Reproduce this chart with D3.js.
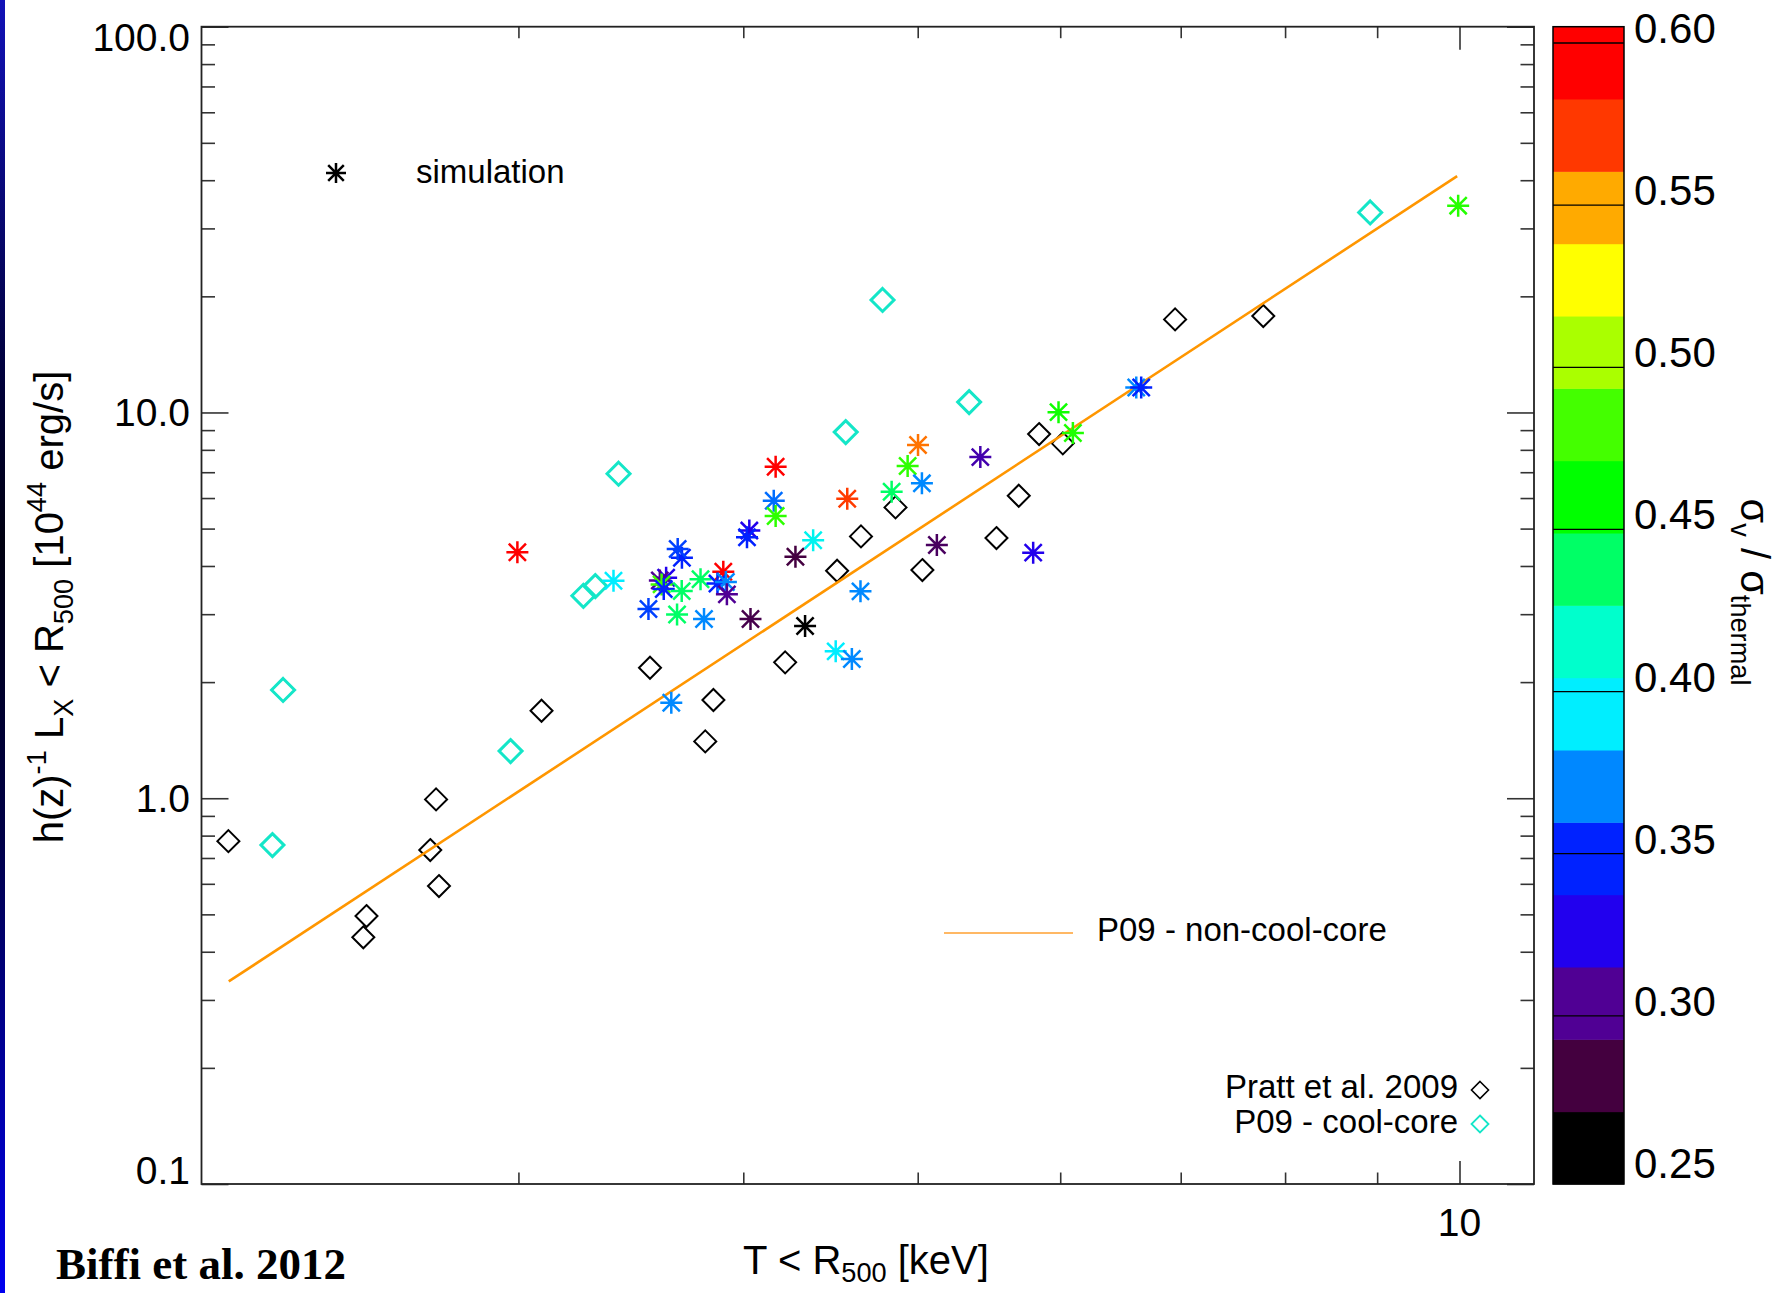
<!DOCTYPE html>
<html>
<head>
<meta charset="utf-8">
<script src="https://cdn.jsdelivr.net/npm/d3@7"></script>
<style>
  body { margin: 0; background: #fff; }
  svg text { font-family: "Liberation Sans", Arial, sans-serif; fill: #000; }
</style>
</head>
<body>
<svg id="chart" width="1781" height="1293"></svg>
<script>
// Pratt et al. 2009 (black diamonds): T [keV], L [1e44 erg/s]
var prattT = [2.07, 2.47, 2.46, 2.70, 2.68, 2.71, 3.09, 3.55, 3.85, 3.81, 4.22,
              4.51, 4.65, 4.86, 5.03, 5.53, 5.69, 5.84, 6.02, 6.95, 7.78];
var prattL = [0.774, 0.495, 0.436, 0.993, 0.734, 0.592, 1.686, 2.179, 1.797, 1.404, 2.250,
              3.888, 4.773, 5.675, 3.904, 4.725, 6.083, 8.790, 8.316, 17.43, 17.78];

// P09 cool-core (cyan diamonds)
var coolT = [2.22, 2.19, 2.97, 3.26, 3.31, 3.41, 4.56, 4.78, 5.34, 8.92];
var coolL = [1.908, 0.756, 1.325, 3.348, 3.548, 6.937, 8.896, 19.57, 10.64, 33.0];

// simulation (asterisks), coloured by sigma_v / sigma_thermal
var simT = [2.996, 3.388, 3.543, 3.624, 3.595, 3.603, 3.613, 3.697, 3.787, 3.899,
            3.870, 3.912, 3.917, 3.698, 3.678, 3.675, 3.804, 4.037, 4.169, 4.159,
            4.169, 4.031, 4.019, 4.276, 4.374, 4.329, 4.502, 4.596, 4.569, 4.647,
            4.836, 4.936, 5.002, 5.027, 5.124, 5.417, 5.796, 5.987, 6.098, 6.613,
            6.655, 9.983, 3.648];
var simL = [4.340, 3.663, 3.093, 3.729, 3.667, 3.584, 3.485, 3.443, 3.696, 3.865,
            3.601, 3.634, 3.377, 4.200, 4.426, 2.994, 2.914, 2.914, 7.234, 5.904,
            5.389, 4.941, 4.746, 4.227, 4.665, 2.795, 2.403, 2.296, 5.975, 3.438,
            6.231, 7.262, 8.232, 6.551, 4.532, 7.661, 4.331, 10.02, 8.843, 11.61,
            11.61, 34.36, 1.768];
var simSigma = [0.594, 0.393, 0.355, 0.326, 0.304, 0.482, 0.348, 0.438, 0.438, 0.594,
                0.348, 0.371, 0.304, 0.348, 0.355, 0.438, 0.371, 0.285, 0.594, 0.365,
                0.475, 0.326, 0.348, 0.282, 0.400, 0.259, 0.393, 0.371, 0.571, 0.371,
                0.438, 0.475, 0.560, 0.371, 0.290, 0.310, 0.326, 0.465, 0.470, 0.371,
                0.348, 0.472, 0.371];

// P09 non-cool-core fit (end points)
var lineT = [2.071, 9.97];
var lineL = [0.335, 41.0];

// colour table, bottom to top
var cbColors = ["#000000", "#44003f", "#500094", "#2200ee", "#0022ff", "#0088ff", "#00eeff", "#00ffcc",
                "#00ff66", "#00ff00", "#44ff00", "#aaff00", "#ffff00", "#ffaa00", "#ff3800", "#ff0000"];
var cbTicks = [0.25, 0.30, 0.35, 0.40, 0.45, 0.50, 0.55, 0.60];

var yMajor = [0.1, 1, 10, 100];
var yMinor = [0.2, 0.3, 0.4, 0.5, 0.6, 0.7, 0.8, 0.9, 2, 3, 4, 5, 6, 7, 8, 9,
              20, 30, 40, 50, 60, 70, 80, 90];
var xMajor = [10];
var xMinor = [3, 4, 5, 6, 7, 8, 9];

var plot = {left: 201.5, right: 1534, top: 26.7, bottom: 1184};

var svg = d3.select("#chart");

// blue strip at the left edge
var grad = svg.append("defs").append("linearGradient")
    .attr("id", "edge").attr("x1", 0).attr("y1", 0).attr("x2", 0).attr("y2", 1);
[[0, "#1212b8"], [0.3, "#000038"], [0.42, "#000010"], [0.65, "#000048"], [1, "#0000f0"]]
  .forEach(function(s) { grad.append("stop").attr("offset", s[0]).attr("stop-color", s[1]); });
svg.append("rect").attr("x", 0).attr("y", 0).attr("width", 5).attr("height", 1293).attr("fill", "url(#edge)");

var x = d3.scaleLog().domain([2, 11]).range([plot.left, plot.right]);
var y = d3.scaleLog().domain([0.1, 100]).range([plot.bottom, plot.top]);

// axes, ticks pointing inwards
function ticks(axis, values, size, tx, ty) {
  var g = svg.append("g").attr("transform", "translate(" + tx + "," + ty + ")")
    .call(axis.tickValues(values).tickSize(size).tickFormat(""));
  g.select(".domain").remove();
  g.selectAll("line").attr("stroke", "#333").attr("stroke-width", 1.6);
}
ticks(d3.axisRight(y), yMajor, 27, plot.left, 0);
ticks(d3.axisRight(y), yMinor, 13.5, plot.left, 0);
ticks(d3.axisLeft(y), yMajor, 27, plot.right, 0);
ticks(d3.axisLeft(y), yMinor, 13.5, plot.right, 0);
ticks(d3.axisTop(x), xMajor, 23, 0, plot.bottom);
ticks(d3.axisTop(x), xMinor, 11.5, 0, plot.bottom);
ticks(d3.axisBottom(x), xMajor, 23, 0, plot.top);
ticks(d3.axisBottom(x), xMinor, 11.5, 0, plot.top);

svg.append("rect")
  .attr("x", plot.left).attr("y", plot.top)
  .attr("width", plot.right - plot.left).attr("height", plot.bottom - plot.top)
  .attr("fill", "none").attr("stroke", "#222").attr("stroke-width", 1.8);

// tick labels
svg.selectAll(".ylab").data(yMajor).enter().append("text")
  .attr("x", 190).attr("text-anchor", "end")
  .attr("y", function(d) { return Math.min(plot.bottom, Math.max(51, y(d) + 14)); })
  .style("font-size", "39px")
  .text(function(d) { return d < 1 ? "0.1" : d3.format(".1f")(d); });

svg.selectAll(".xlab").data(xMajor).enter().append("text")
  .attr("x", function(d) { return x(d); }).attr("y", 1236).attr("text-anchor", "middle")
  .style("font-size", "39px")
  .text(function(d) { return d; });

// text with sub/superscripts
function rich(sel, parts, size, subShift) {
  var shift = 0;
  parts.forEach(function(p) {
    var target = p[1] == "sup" ? -0.42 * size : p[1] == "sub" ? subShift * size : 0;
    var t = sel.append("tspan").text(p[0]).attr("dy", target - shift);
    if (p[1] != "n") t.style("font-size", (0.68 * size) + "px");
    shift = target;
  });
}

var ytitle = svg.append("text")
  .attr("transform", "translate(63,607) rotate(-90)")
  .attr("text-anchor", "middle").style("font-size", "40px");
rich(ytitle, [["h(z)", "n"], ["-1", "sup"], [" L", "n"], ["X", "sub"], [" < R", "n"],
              ["500", "sub"], [" [10", "n"], ["44", "sup"], [" erg/s]", "n"]], 40, 0.26);

var xtitle = svg.append("text")
  .attr("x", 866).attr("y", 1274).attr("text-anchor", "middle").style("font-size", "40px");
rich(xtitle, [["T < R", "n"], ["500", "sub"], [" [keV]", "n"]], 40, 0.2);

svg.append("text").attr("x", 56).attr("y", 1279)
  .style("font-family", "'Liberation Serif', 'Times New Roman', serif")
  .style("font-weight", "bold").style("font-size", "45px")
  .text("Biffi et al. 2012");

// markers
function diamond(s) { return "M0," + (-s) + "L" + s + ",0L0," + s + "L" + (-s) + ",0Z"; }
function star(r) {
  var d = r * 0.78;
  return "M0," + (-r) + "V" + r + "M" + (-r) + ",0H" + r +
         "M" + (-d) + "," + (-d) + "L" + d + "," + d + "M" + (-d) + "," + d + "L" + d + "," + (-d);
}

svg.append("g").selectAll("path").data(prattT).enter().append("path")
  .attr("d", diamond(11))
  .attr("transform", function(d, i) { return "translate(" + x(d) + "," + y(prattL[i]) + ")"; })
  .attr("fill", "none").attr("stroke", "#000").attr("stroke-width", 2);

svg.append("g").selectAll("path").data(coolT).enter().append("path")
  .attr("d", diamond(11.5))
  .attr("transform", function(d, i) { return "translate(" + x(d) + "," + y(coolL[i]) + ")"; })
  .attr("fill", "none").attr("stroke", "#14e6c8").attr("stroke-width", 3);

var line = d3.line().x(function(d) { return x(d); }).y(function(d, i) { return y(lineL[i]); });
svg.append("path").attr("d", line(lineT))
  .attr("fill", "none").attr("stroke", "#ff9600").attr("stroke-width", 2.6);

// colour scale
var cb = d3.scaleLinear().domain([0.25, 0.60]).range([1178, 43]);
var cbLo = cb.invert(plot.bottom), cbHi = cb.invert(plot.top);
var step = (cbHi - cbLo) / cbColors.length;
var centers = cbColors.map(function(c, i) { return cbLo + (i + 0.5) * step; });
var color = d3.scaleLinear().domain(centers).range(cbColors).clamp(true);

svg.append("g").selectAll("path").data(simT).enter().append("path")
  .attr("d", star(11))
  .attr("transform", function(d, i) { return "translate(" + x(d) + "," + y(simL[i]) + ")"; })
  .attr("fill", "none").attr("stroke-width", 2.5)
  .attr("stroke", function(d, i) { return color(simSigma[i]); });

// legends
svg.append("path").attr("d", star(10))
  .attr("transform", "translate(336,173)")
  .attr("fill", "none").attr("stroke", "#000").attr("stroke-width", 2.5);
svg.append("text").attr("x", 416).attr("y", 183).style("font-size", "33px").text("simulation");

svg.append("line").attr("x1", 944).attr("x2", 1073).attr("y1", 933).attr("y2", 933)
  .attr("stroke", "#ffa030").attr("stroke-width", 1.6);
svg.append("text").attr("x", 1097).attr("y", 941).style("font-size", "33px").text("P09 - non-cool-core");

svg.append("text").attr("x", 1458).attr("y", 1098).attr("text-anchor", "end")
  .style("font-size", "33px").text("Pratt et al. 2009");
svg.append("path").attr("d", diamond(8.5)).attr("transform", "translate(1480,1090)")
  .attr("fill", "none").attr("stroke", "#000").attr("stroke-width", 1.6);
svg.append("text").attr("x", 1458).attr("y", 1133).attr("text-anchor", "end")
  .style("font-size", "33px").text("P09 - cool-core");
svg.append("path").attr("d", diamond(8.5)).attr("transform", "translate(1480,1124)")
  .attr("fill", "none").attr("stroke", "#14e6c8").attr("stroke-width", 1.8);

// colour bar
var cbx = 1553, cbw = 71;
svg.append("g").selectAll("rect").data(cbColors).enter().append("rect")
  .attr("x", cbx).attr("width", cbw)
  .attr("y", function(d, i) { return cb(cbLo + (i + 1) * step); })
  .attr("height", function(d, i) { return cb(cbLo + i * step) - cb(cbLo + (i + 1) * step) + 0.5; })
  .attr("fill", function(d) { return d; });
svg.append("g").selectAll("line").data(cbTicks).enter().append("line")
  .attr("x1", cbx).attr("x2", cbx + cbw)
  .attr("y1", function(d) { return cb(d); }).attr("y2", function(d) { return cb(d); })
  .attr("stroke", "#000").attr("stroke-width", 1.3);
svg.append("rect").attr("x", cbx).attr("y", plot.top).attr("width", cbw)
  .attr("height", plot.bottom - plot.top)
  .attr("fill", "none").attr("stroke", "#000").attr("stroke-width", 1.5);
svg.append("g").selectAll("text").data(cbTicks).enter().append("text")
  .attr("x", 1634).attr("y", function(d) { return cb(d); })
  .style("font-size", "42px")
  .text(function(d) { return d3.format(".2f")(d); });

var cbtitle = svg.append("text")
  .attr("transform", "translate(1741,592) rotate(90)")
  .attr("text-anchor", "middle").style("font-size", "40px");
rich(cbtitle, [["\u03c3", "n"], ["v", "sub"], [" / \u03c3", "n"], ["thermal", "sub"]], 40, 0.26);
</script>
</body>
</html>
